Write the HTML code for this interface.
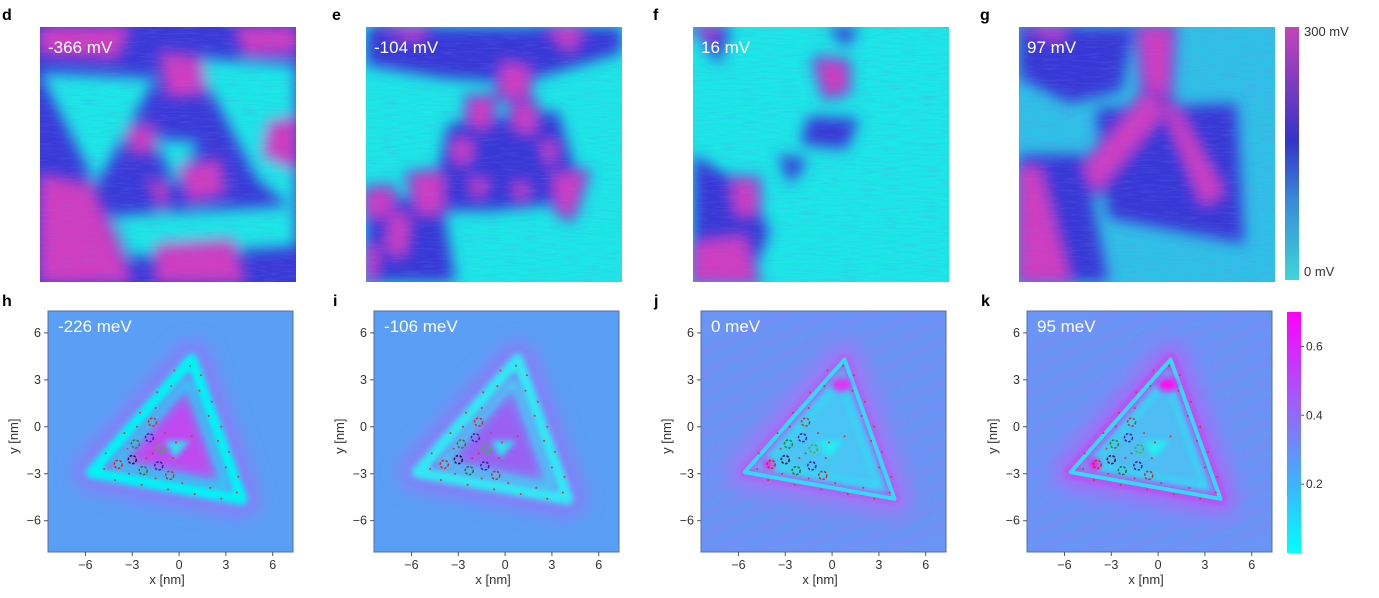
<!DOCTYPE html>
<html style="overflow:hidden"><head><meta charset="utf-8">
<style>
html,body{margin:0;background:#fff;width:1379px;height:598px;overflow:hidden;position:relative;font-family:"Liberation Sans","DejaVu Sans",sans-serif}
.lt{position:absolute;font-weight:bold;font-size:16px;line-height:16px;color:#000}
svg{position:absolute;left:0;top:0;display:block;overflow:hidden}
</style></head><body>
<div class="lt" style="left:2px;top:8px">d</div>
<div class="lt" style="left:332px;top:8px">e</div>
<div class="lt" style="left:653px;top:8px">f</div>
<div class="lt" style="left:980px;top:8px">g</div>
<div class="lt" style="left:2px;top:294px">h</div>
<div class="lt" style="left:333px;top:294px">i</div>
<div class="lt" style="left:654px;top:294px">j</div>
<div class="lt" style="left:981px;top:294px">k</div>
<svg id="s" width="1379" height="598" font-family="Liberation Sans, DejaVu Sans, sans-serif">
<defs>
<filter id="bl" filterUnits="userSpaceOnUse" x="0" y="0" width="1379" height="598"><feGaussianBlur stdDeviation="7"/></filter>
<filter id="bl2" filterUnits="userSpaceOnUse" x="0" y="0" width="1379" height="598"><feGaussianBlur stdDeviation="3"/></filter>
<filter id="bl5" filterUnits="userSpaceOnUse" x="0" y="0" width="1379" height="598"><feGaussianBlur stdDeviation="6"/></filter>
<filter id="bl8" filterUnits="userSpaceOnUse" x="0" y="0" width="1379" height="598"><feGaussianBlur stdDeviation="9"/></filter>
<filter id="noise"><feTurbulence type="fractalNoise" baseFrequency="0.05 0.6" numOctaves="2" seed="3"/><feColorMatrix values="0 0 0 0 0.2  0 0 0 0 0.2  0 0 0 0 0.85  0 0 0 1.6 -0.75"/></filter>
<linearGradient id="cbTop" x1="0" y1="1" x2="0" y2="0"><stop offset="0" stop-color="#3fd6d8"/><stop offset="0.3" stop-color="#3a8ed8"/><stop offset="0.55" stop-color="#3434c8"/><stop offset="1" stop-color="#c444b8"/></linearGradient>
<linearGradient id="cbBot" x1="0" y1="1" x2="0" y2="0"><stop offset="0" stop-color="#00ffff"/><stop offset="0.3" stop-color="#40b0ff"/><stop offset="0.55" stop-color="#8a70f8"/><stop offset="1" stop-color="#ff00ff"/></linearGradient>
</defs>
<g id="top"></g><g id="bot"></g>
<rect x="1285" y="27" width="14" height="253" fill="url(#cbTop)"/>
<text x="1304" y="36" font-size="13" fill="#333">300 mV</text>
<text x="1304" y="276" font-size="13" fill="#333">0 mV</text>
<rect x="1287" y="312" width="14" height="241" fill="url(#cbBot)"/>
<g id="cbt"></g>
</svg>
<script>
const NS='http://www.w3.org/2000/svg';
function mk(p,t,a){const e=document.createElementNS(NS,t);for(const k in a)e.setAttribute(k,a[k]);p.appendChild(e);return e;}
const C={m:'#cf3cc0',b:'#3838d6',c:'#1ce6e6',l:'#3a9ee6'};
const topLefts=[40,366,693,1019];
const topLabels=['-366 mV','-104 mV','16 mV','97 mV'];
const topBase=['#3a3ad8','#1ce6e6','#1ce6e6','#2fc0e6'];
const topShapes=[
 [['c','0,.18 .45,.2 .22,.62'],['c','.6,.12 1,.15 1,.72 .85,.6'],['c','.28,.74 1,.7 1,.86 .35,.9'],['c','.45,.44 .62,.45 .53,.62'],
  ['m','0,0 .35,0 .3,.12 0,.1'],['m','.47,.1 .62,.12 .64,.26 .5,.27'],['m','.76,0 1,0 1,.1 .8,.1'],['m','0,.58 .2,.62 .36,1 0,1'],
  ['m','.46,.86 .75,.84 .8,1 .45,1'],['m','.9,.38 1,.36 1,.55 .88,.5'],['m','.35,.4 .45,.38 .43,.5 .35,.48'],['m','.55,.55 .7,.52 .72,.65 .58,.68'],['m','.42,.6 .5,.62 .48,.72']],
 [['b','0,0 1,0 1,.1 .6,.22 .3,.2 0,.15'],['b','.32,.38 .75,.33 .85,.68 .5,.72 .25,.72'],['b','0,.65 .3,.7 .35,1 0,1'],
  ['m','.05,0 .25,0 .2,.05'],['m','.7,0 .85,0 .8,.1'],['m','.53,.14 .64,.16 .63,.28 .52,.27'],['m','.4,.28 .5,.28 .48,.4 .4,.38'],['m','.57,.3 .66,.3 .66,.42 .58,.4'],
  ['m','.34,.44 .42,.45 .4,.54 .34,.52'],['m','.68,.45 .75,.46 .72,.56'],['m','.17,.58 .3,.57 .3,.73 .2,.73'],['m','.4,.6 .48,.6 .44,.68'],['m','.57,.61 .64,.62 .61,.7'],
  ['m','.73,.58 .86,.57 .8,.75 .75,.72'],['m','0,.64 .1,.63 .12,.75 0,.74'],['m','.1,.72 .17,.75 .15,.9 .08,.88'],['m','0,.85 .05,.87 .03,1 0,1']],
 [['b','.45,.35 .65,.36 .6,.48 .42,.46'],['b','.33,.5 .45,.52 .38,.62'],['b','0,.5 .2,.62 .3,.8 .22,1 0,1'],['b','.52,0 .65,0 .6,.08'],['b','0,0 .15,0 .1,.15'],
  ['m','.48,.13 .6,.14 .6,.25 .52,.27'],['m','.15,.6 .25,.6 .25,.73 .17,.74'],['m','0,.85 .2,.82 .25,1 0,1'],['m','0,.0 .1,0 .08,.05']],
 [['b','0,0 .45,0 .4,.25 .2,.3 0,.2'],['b','.3,.32 .85,.3 .88,.85 .35,.75'],['b','0,.5 .25,.5 .35,1 0,1'],
  ['m','.47,0 .6,0 .58,.35 .5,.4'],['m','.5,.25 .6,.3 .3,.65 .25,.55'],['m','.55,.28 .62,.32 .8,.65 .72,.7'],['m','0,.55 .08,.55 .2,1 0,1'],['m','0,0 .2,0 .15,.05']]
];
const tg=document.getElementById('top');
topLefts.forEach((L,i)=>{
 const g=mk(tg,'g',{});
 const W=256,H=255,T=27;
 const cp=mk(g,'clipPath',{id:'cpt'+i});mk(cp,'rect',{x:L,y:T,width:W,height:H});
 const gi=mk(g,'g',{'clip-path':'url(#cpt'+i+')'});
 mk(gi,'rect',{x:L,y:T,width:W,height:H,fill:topBase[i]});
 const gb=mk(gi,'g',{filter:'url(#bl)'});
 topShapes[i].forEach(s=>{
  const pts=s[1].split(' ').map(q=>{const [a,b]=q.split(',').map(Number);return (L+a*W)+','+(T+b*H);}).join(' ');
  if(s[0]=='m'){mk(gb,'polygon',{points:pts,fill:C.b,stroke:C.b,'stroke-width':8,'stroke-linejoin':'round'});}
  mk(gb,'polygon',{points:pts,fill:C[s[0]],'stroke-linejoin':'round'});
 });
 mk(gi,'rect',{x:L,y:T,width:W,height:H,filter:'url(#noise)',opacity:0.35});
 const t=mk(g,'text',{x:L+8,y:T+26,'font-size':17,fill:'#fff'});t.textContent=topLabels[i];
 
 
});
const botLefts=[48,374,701,1027];
const botLabels=['-226 meV','-106 meV','0 meV','95 meV'];
const xTicks=[-6,-3,0,3,6];
const yTicks=[6,3,0,-3,-6];
const cbTicks=[0.2,0.4,0.6];
const triOuter=[[0.8,4.3],[-5.6,-2.9],[4.0,-4.6]];
const triInner=[[0.55,2.9],[-4.1,-2.4],[3.0,-3.8]];
const rings=[[-1.7,0.3,'#d03030'],[-1.9,-0.7,'#4020a0'],[-2.8,-1.1,'#308030'],[-1.2,-1.4,'#30c030'],[-3.0,-2.1,'#301030'],[-3.9,-2.4,'#e02020'],[-2.3,-2.8,'#307030'],[-1.3,-2.5,'#4020a0'],[-0.6,-3.1,'#c03030']];
const dots=[[0.7,3.9],[-0.3,3.6],[1.4,3.3],[-0.5,2.6],[-1.4,2.2],[1.3,2.3],[2.1,1.6],[-1.5,1.2],[-2.5,0.9],[1.9,0.7],[2.7,0],[-2.7,0],[-3.5,-0.4],[2.5,-0.9],[-3.3,-1.4],[3.2,-1.6],[-4.7,-1.7],[-0.9,-0.4],[0.8,-0.6],[-0.2,-1],[3.0,-2.6],[-4.8,-2.7],[3.8,-3.2],[-3.2,-3],[-4.1,-3.4],[-1.5,-3.3],[0.2,-3.6],[-2.4,-3.7],[2.0,-3.9],[-0.7,-4],[1.0,-4.3],[3.7,-4.2],[2.7,-4.6],[-0.4,-2],[-1.7,-1.7],[-2.1,-2]];
const XMIN=-8.4,XMAX=7.3,YMIN=-8.0,YMAX=7.4,PW=245,PH=241,PT=311;
const styles=[
 {bg:'#5a9ef6',halo:'#8a7cf6',band:'#00f4f4',inner:'#c048f0',edge:null,spot:'#30e0f0'},
 {bg:'#5a9ef6',halo:'#8a7cf6',band:'#30e8f4',inner:'#9a60f2',edge:null,spot:'#30e0f0'},
 {bg:'#6a94f6',halo:'#9a7af6',band:'#30dcf4',inner:'#48c4f4',edge:'#e030f0',spot:'#20f0f0'},
 {bg:'#6a94f6',halo:'#a070f6',band:'#30dcf4',inner:'#50bcf4',edge:'#ff10f0',spot:'#20f0f0'}];
const bg=document.getElementById('bot');
botLefts.forEach((L,i)=>{
 const X=v=>L+(v-XMIN)/(XMAX-XMIN)*PW, Y=v=>PT+(YMAX-v)/(YMAX-YMIN)*PH;
 const st=styles[i];
 const g=mk(bg,'g',{});
 const cp=mk(g,'clipPath',{id:'cpb'+i});mk(cp,'rect',{x:L,y:PT,width:PW,height:PH});
 const gi=mk(g,'g',{'clip-path':'url(#cpb'+i+')'});
 mk(gi,'rect',{x:L,y:PT,width:PW,height:PH,fill:st.bg});
 if(i>=2){for(let k=-6;k<=8;k++){mk(gi,'line',{x1:X(-9),y1:Y(k*1.3-6),x2:X(8),y2:Y(k*1.3+2),stroke:'#8a80f6','stroke-width':5,opacity:0.35,filter:'url(#bl2)'});}}
 const P=t=>t.map(p=>X(p[0])+','+Y(p[1])).join(' ');
 mk(gi,'polygon',{points:P(triOuter),fill:'none',stroke:st.halo,'stroke-width':36,'stroke-linejoin':'round',filter:'url(#bl8)',opacity:1});
 mk(gi,'polygon',{points:P(triOuter),fill:st.inner,filter:'url(#bl2)'});
 if(i<2){mk(gi,'polygon',{points:P(triInner),fill:'none',stroke:st.band,'stroke-width':10,'stroke-linejoin':'round',filter:'url(#bl5)',opacity:0.6});}
 if(st.edge){mk(gi,'polygon',{points:P(triOuter),fill:'none',stroke:st.edge,'stroke-width':9,'stroke-linejoin':'round',filter:'url(#bl2)',opacity:0.6});}
 mk(gi,'polygon',{points:P(triOuter),fill:'none',stroke:st.band,'stroke-width':i>=2?4:12,'stroke-linejoin':'round',filter:i>=2?'':'url(#bl2)'});
 mk(gi,'polygon',{points:P(triInner),fill:'none',stroke:st.band,'stroke-width':i>=2?4:6,'stroke-linejoin':'round',filter:'url(#bl2)',opacity:i>=2?1:0.5});
 if(st.edge){mk(gi,'ellipse',{cx:X(0.6),cy:Y(2.7),rx:10,ry:7,fill:st.edge,filter:'url(#bl2)'});mk(gi,'circle',{cx:X(-4.1),cy:Y(-2.4),r:6,fill:st.edge,filter:'url(#bl2)'});}
 mk(gi,'polygon',{points:P([[-0.9,-0.9],[0.7,-0.9],[-0.3,-2]]),fill:st.spot,filter:'url(#bl2)'});
 rings.forEach(r=>{const c=mk(gi,'circle',{cx:X(r[0]),cy:Y(r[1]),r:4,fill:'none',stroke:r[2],'stroke-width':1.5,'stroke-dasharray':'2.5 1.5'});
  
  });
 dots.forEach(d=>{mk(gi,'circle',{cx:X(d[0]),cy:Y(d[1]),r:1,fill:'#e83030'});});
 mk(g,'rect',{x:L,y:PT,width:PW,height:PH,fill:'none',stroke:'#5070a0','stroke-width':1});
 const t=mk(g,'text',{x:L+10,y:PT+21,'font-size':17,fill:'#fff'});t.textContent=botLabels[i];
 
 
 xTicks.forEach(v=>{mk(g,'line',{x1:X(v),x2:X(v),y1:PT+PH,y2:PT+PH+4,stroke:'#555'});
  const tx=mk(g,'text',{x:X(v),y:PT+PH+17,'font-size':12.5,fill:'#333','text-anchor':'middle'});tx.textContent=(v<0?'\u2212'+(-v):v);
  
  });
 yTicks.forEach(v=>{mk(g,'line',{x1:L-4,x2:L,y1:Y(v),y2:Y(v),stroke:'#555'});
  const ty=mk(g,'text',{x:L-7,y:Y(v)+4,'font-size':12.5,fill:'#333','text-anchor':'end'});ty.textContent=(v<0?'\u2212'+(-v):v);
  
  });
 const xl=mk(g,'text',{x:X(0)-12,y:584,'font-size':13,fill:'#333','text-anchor':'middle'});xl.textContent='x [nm]';
 
 
 const yl=mk(g,'text',{x:0,y:0,'font-size':13,fill:'#333','text-anchor':'middle',transform:'translate('+(L-30)+','+Y(-0.6)+') rotate(-90)'});yl.textContent='y [nm]';
 
 
});
const cbt=document.getElementById('cbt');
const CB0=553,CBS=(553-312)/0.7;
cbTicks.forEach(v=>{const y=CB0-v*CBS;mk(cbt,'line',{x1:1301,x2:1304,y1:y,y2:y,stroke:'#555'});
 const t=mk(cbt,'text',{x:1306,y:y+4,'font-size':12,fill:'#333'});t.textContent=v.toFixed(1);
 
 });
</script>
</body></html>
